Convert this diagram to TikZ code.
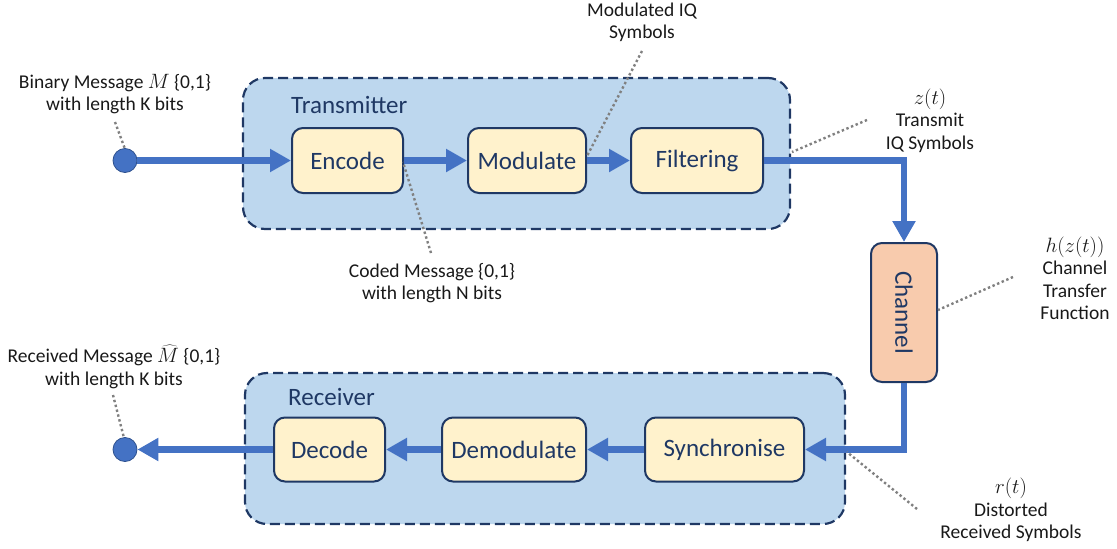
\documentclass[tikz,border=0pt]{standalone}
\usepackage{fontspec}
\setmainfont{Carlito}
\usetikzlibrary{arrows.meta}
\definecolor{flowblue}{HTML}{4472C4}
\definecolor{navy}{HTML}{1F3864}
\definecolor{panel}{HTML}{BDD7EE}
\definecolor{block}{HTML}{FFF2CC}
\definecolor{chanfill}{HTML}{F8CBAD}
\definecolor{leader}{HTML}{808080}
\definecolor{dotedge}{HTML}{2F528F}
\begin{document}
\begin{tikzpicture}[x=1pt,y=-1pt,
  panelbox/.style={draw=navy, fill=panel, line width=2.2pt,
    dash pattern=on 10pt off 5pt, rounded corners=22pt, inner sep=0pt},
  stage/.style={draw=navy, fill=block, line width=2pt, rounded corners=11pt,
    text=navy, font=\fontsize{25}{29}\selectfont, inner sep=0pt},
  chanbox/.style={stage, fill=chanfill},
  paneltitle/.style={text=navy, font=\fontsize{25}{29}\selectfont, inner sep=0pt, anchor=west},
  terminal/.style={circle, fill=flowblue, draw=dotedge, line width=0.8pt,
    minimum size=24pt, inner sep=0pt},
  flow/.style={draw=flowblue, line width=6.5pt, line join=miter,
    -{Triangle[length=21pt,width=22pt]}},
  note/.style={align=center, inner sep=0pt, text=black!90,
    font=\fontsize{19.5}{22.5}\selectfont},
  leaderline/.style={draw=leader, line width=2.4pt, dash pattern=on 2.4pt off 2.6pt},
]
\useasboundingbox (0,0) rectangle (1117,549);

% transmitter and receiver panels
\node[panelbox, minimum width=547pt, minimum height=151pt] (tx) at (516.5,153.5) {};
\node[panelbox, minimum width=600pt, minimum height=151pt] (rx) at (545,448.5) {};
\node[paneltitle] (txtitle) at (291,105) {Transmitter};
\node[paneltitle] (rxtitle) at (288,397) {Receiver};

% processing stages
\node[stage, minimum width=111pt, minimum height=65pt] (enc) at (347.5,160.5) {Encode};
\node[stage, minimum width=118pt, minimum height=65pt] (mod) at (527,160.5) {Modulate};
\node[stage, minimum width=132pt, minimum height=65pt] (filt) at (697,160.5) {Filtering};
\node[chanbox, minimum width=66pt, minimum height=139pt] (ch) at (904,312.5) {};
\node[text=navy, font=\fontsize{25}{29}\selectfont, rotate=-90, inner sep=0pt] (chtext) at (ch.center) {Channel};
\node[stage, minimum width=111pt, minimum height=64pt] (dec) at (329.5,449.5) {Decode};
\node[stage, minimum width=144pt, minimum height=64pt] (demod) at (514,449.5) {Demodulate};
\node[stage, minimum width=159pt, minimum height=64pt] (sync) at (724.5,449.5) {Synchronise};

% message source and sink
\node[terminal] (din) at (125,160.5) {};
\node[terminal] (dout) at (125,449.5) {};

% signal path
\draw[flow] (din.east) -- (enc.west);
\draw[flow] (enc.east) -- (mod.west);
\draw[flow] (mod.east) -- (filt.west);
\draw[flow] (filt.east) -| (ch.north);
\draw[flow] (ch.south) |- (sync.east);
\draw[flow] (sync.west) -- (demod.east);
\draw[flow] (demod.west) -- (dec.east);
\draw[flow] (dec.west) -- (dout.east);

% annotations
\node[note] (binmsg) at (115,94) {Binary Message $M$ \{0,1\}\\with length K bits};
\node[note] (modiq) at (642,22.5) {Modulated IQ\\Symbols};
\node[note] (ztx) at (930,120.5) {$z(t)$\\Transmit\\IQ Symbols};
\node[note] (coded) at (432,283) {Coded Message \{0,1\}\\with length N bits};
\node[note] (hz) at (1075,278.5) {$h(z(t))$\\Channel\\Transfer\\Function};
\node[note] (rt) at (1011,510) {$r(t)$\\Distorted\\Received Symbols};
\node[note] (recmsg) at (114,367) {Received Message $\widehat{M}$ \{0,1\}\\with length K bits};

% leader lines from annotations to the signal path
\coordinate (binA) at (115,122);   \coordinate (binB) at (125,149);
\coordinate (modA) at (642,51);    \coordinate (modB) at (587,156);
\coordinate (ztxA) at (867,120);   \coordinate (ztxB) at (792,152);
\coordinate (codA) at (431,253);   \coordinate (codB) at (403,162);
\coordinate (hzA) at (1013,277);   \coordinate (hzB) at (938,310);
\coordinate (rtA) at (917,509);    \coordinate (rtB) at (847,452);
\coordinate (recA) at (113,395);   \coordinate (recB) at (124,438);
\draw[leaderline] (binA) -- (binB);
\draw[leaderline] (modA) -- (modB);
\draw[leaderline] (ztxA) -- (ztxB);
\draw[leaderline] (codA) -- (codB);
\draw[leaderline] (hzA) -- (hzB);
\draw[leaderline] (rtA) -- (rtB);
\draw[leaderline] (recA) -- (recB);
\end{tikzpicture}
\end{document}
